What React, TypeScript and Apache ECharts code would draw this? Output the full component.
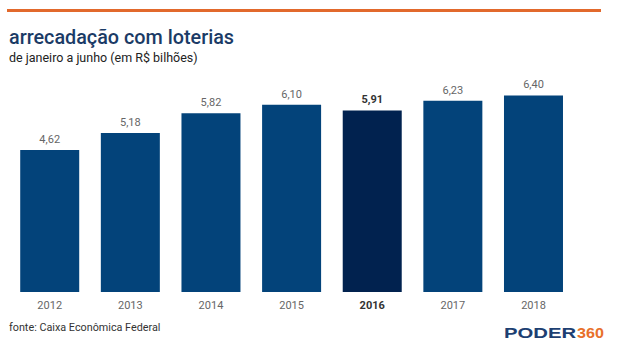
import React, { useEffect, useRef } from "react";
import * as echarts from "echarts";

const years = ["2012", "2013", "2014", "2015", "2016", "2017", "2018"];
const values = [4.62, 5.18, 5.82, 6.1, 5.91, 6.23, 6.4];
const highlightYear = "2016";

const BLUE = "#03437a";
const DARK = "#01224f";

export default function App() {
  const ref = useRef<HTMLDivElement>(null);
  useEffect(() => {
    if (!ref.current) return;
    const chart = echarts.init(ref.current, undefined, { renderer: "svg" });
    const font = "Roboto, 'Noto Sans', sans-serif";
    chart.setOption({
      animation: false,
      backgroundColor: "#ffffff",
      textStyle: { fontFamily: font },
      grid: { left: 9.4, right: 45.2, top: 77, bottom: 58, containLabel: false },
      xAxis: {
        type: "category",
        data: years,
        axisLine: { show: false },
        axisTick: { show: false },
        axisLabel: {
          margin: 8,
          fontSize: 11,
          fontFamily: font,
          color: "#666666",
          formatter: (v: string) => (v === highlightYear ? "{b|" + v + "}" : v),
          rich: { b: { fontWeight: "bold", color: "#333333", fontSize: 11, fontFamily: font } },
        },
      },
      yAxis: { type: "value", min: 0, max: 7, show: false, splitLine: { show: false } },
      series: [
        {
          type: "bar",
          barWidth: 59,
          data: values.map((v, i) => ({
            value: v,
            itemStyle: { color: years[i] === highlightYear ? DARK : BLUE },
            label: years[i] === highlightYear ? { fontWeight: "bold", color: "#333333" } : undefined,
          })),
          label: {
            show: true,
            position: "top",
            distance: 5,
            fontSize: 11,
            fontFamily: font,
            color: "#666666",
            formatter: (p: any) => p.value.toFixed(2).replace(".", ","),
          },
        },
      ],
      graphic: [
        {
          type: "rect",
          shape: { x: 7, y: 9, width: 594, height: 3 },
          style: { fill: "#e2692c" },
        },
        {
          type: "text",
          x: 9,
          y: 37,
          style: {
            text: "arrecadação com loterias",
            fontSize: 19.8,
            fontWeight: 500,
            fontFamily: font,
            fill: "#1b3b66",
            verticalAlign: "middle",
          },
        },
        {
          type: "text",
          x: 9,
          y: 57,
          style: {
            text: "de janeiro a junho (em R$ bilhões)",
            fontSize: 12.5,
            fontFamily: font,
            fill: "#222222",
            verticalAlign: "middle",
          },
        },
        {
          type: "text",
          x: 9,
          y: 327,
          style: {
            text: "fonte: Caixa Econômica Federal",
            fontSize: 10.8,
            fontFamily: font,
            fill: "#333333",
            verticalAlign: "middle",
          },
        },
        {
          type: "group",
          x: 504,
          y: 333,
          children: [
            {
              type: "text",
              x: 0,
              y: 0,
              scaleX: 1.45,
              style: {
                text: "PODER",
                fontSize: 14,
                fontWeight: 900,
                fontFamily: "'Liberation Sans', sans-serif",
                fill: "#1d3f72",
                verticalAlign: "middle",
              },
            },
            {
              type: "text",
              x: 73,
              y: 0,
              scaleX: 1.15,
              style: {
                text: "360",
                fontSize: 14,
                fontWeight: 900,
                fontFamily: "'Liberation Sans', sans-serif",
                fill: "#e8702a",
                verticalAlign: "middle",
              },
            },
          ],
        },
      ],
    });
    return () => chart.dispose();
  }, []);
  return <div ref={ref} style={{ width: 619, height: 350, position: "absolute", left: 0, top: 0 }} />;
}
